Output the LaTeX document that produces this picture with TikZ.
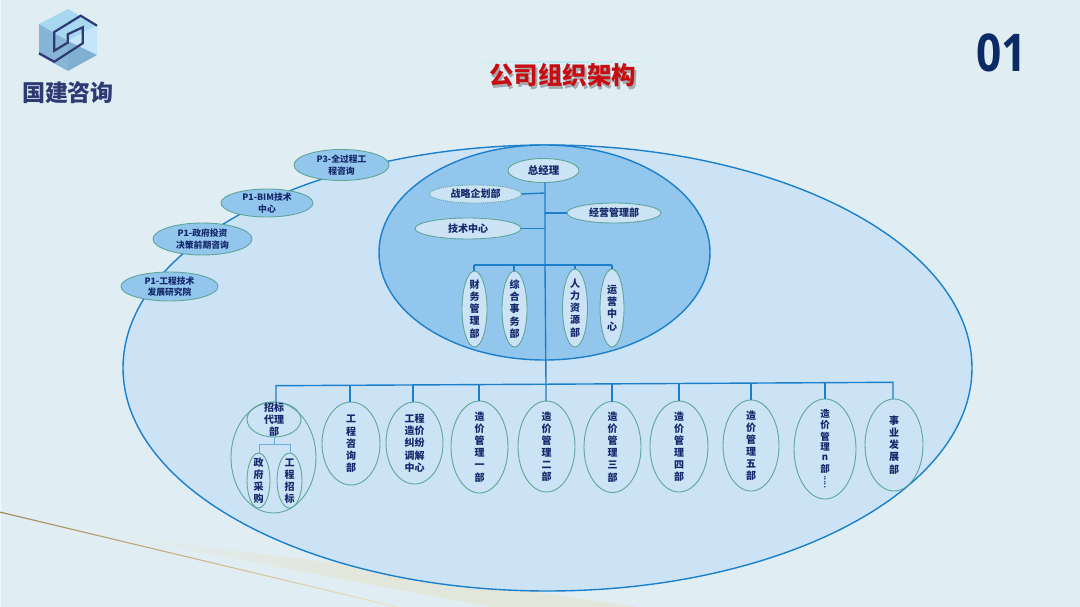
\documentclass[tikz,border=0pt]{standalone}
\usepackage{graphicx}
\usepackage{fontspec}
\setmainfont{Noto Sans CJK SC}
\newfontfamily\numfont{Open Sans}
\usetikzlibrary{shapes.geometric}
\definecolor{bgc}{HTML}{E0EEF4}
\definecolor{bigfill}{HTML}{CBE3F5}
\definecolor{midfill}{HTML}{93C6EC}
\definecolor{linec}{HTML}{1B7FCB}
\definecolor{edgec}{HTML}{5FA59A}
\definecolor{inkc}{HTML}{14286B}
\definecolor{logoc}{HTML}{2F3A73}
\definecolor{navyc}{HTML}{0B2A66}
\definecolor{redc}{HTML}{C80D12}
\definecolor{goldd}{HTML}{A08A55}
\definecolor{goldl}{HTML}{F0E2BE}
\definecolor{wedgec}{HTML}{E3E6DA}
\definecolor{cyanl}{HTML}{B8E8F6}
\definecolor{logoa}{HTML}{A8D8F0}
\definecolor{logob}{HTML}{C5E5FA}
\definecolor{logoc2}{HTML}{7FB0D2}
\definecolor{logod}{HTML}{86B5D5}
\newcommand\zt[1]{\smash{\makebox[0pt]{\raisebox{-.39em}{\begin{tabular}{@{}c@{}}#1\end{tabular}}}}}
\tikzset{
  oval/.style={ellipse,draw=edgec,line width=0.9pt,inner sep=0pt,outer sep=0pt,text=inkc,font=\fontsize{10}{12}\selectfont\bfseries},
  lightoval/.style={oval,fill=bigfill},
  pnode/.style={oval,fill=midfill,font=\fontsize{8.8}{11.5}\selectfont\bfseries},
  wire/.style={draw=linec,line width=1.4pt},
  subwire/.style={draw=linec!65,line width=1pt},
  sz/.style 2 args={minimum width=#1pt,minimum height=#2pt}
}
\begin{document}
\begin{tikzpicture}[x=1pt,y=-1pt]
\useasboundingbox (0,0) rectangle (1080,607);
\fill[bgc] (0,0) rectangle (1080,607);
\fill[bgc!50!white] (0,0) rectangle (1,607);
% gold decoration
\shade[left color=bgc,right color=wedgec,middle color=wedgec] (85,531) -- (348,565) -- (638,607) -- (491,607) -- cycle;
\shade[left color=goldd,right color=goldl] (0,511.5) -- (397,606.5) -- (397,607.5) -- (0,512.7) -- cycle;
% big ellipses
\node[ellipse,draw=linec,line width=1.4pt,fill=bigfill,minimum width=849pt,minimum height=446pt,inner sep=0pt] (outer) at (547.5,368) {};
\node[ellipse,draw=linec,line width=1.4pt,fill=midfill,minimum width=331pt,minimum height=215pt,inner sep=0pt] (inner) at (544.5,252.5) {};
% title
\shade[left color=bgc,right color=bgc,middle color=cyanl] (460,61.6) rectangle (664,62.8);
\node[text=black,opacity=.28,font=\fontsize{24.5}{26}\selectfont\bfseries] (titleshadow) at (564,78) {公司组织架构};
\node[text=redc,font=\fontsize{24.5}{26}\selectfont\bfseries] (title) at (562.5,75.5) {公司组织架构};
\node[text=navyc,inner sep=0pt] (num) at (1001.5,53) {\scalebox{0.85}[1]{\fontsize{52}{54}\selectfont\numfont\bfseries 01}};
% logo
\fill[logoa] (68,9) -- (97,25) -- (68,41) -- (39,24) -- cycle;
\fill[logob] (97,25) -- (97,55) -- (68,41) -- cycle;
\fill[logod] (39,24) -- (68,41) -- (68,71) -- (39,55) -- cycle;
\fill[logoc2] (97,55) -- (68,71) -- (68,41) -- cycle;
\draw[logoc,line width=2.2pt,line join=miter] (97,25.7) -- (80.7,15.7) -- (54.3,32) -- (54.3,50.7) -- (67.7,42.7) -- (67.7,34.3) -- (82.7,27.3) -- (82.7,43.3) -- (54.3,61.7) -- (39,53.3);
\node[text=logoc,font=\fontsize{23}{25}\selectfont\bfseries] (logotext) at (68,92.5) {国建咨询};
% top group
\node[lightoval,sz={71}{24},font=\fontsize{10.5}{12}\selectfont\bfseries] (gm) at (543.5,170.5) {\zt{总经理}};
\node[lightoval,sz={92}{18},densely dotted] (zl) at (475.5,194) {\zt{战略企划部}};
\node[lightoval,sz={94}{20}] (jy) at (614,213) {\zt{经营管理部}};
\node[lightoval,sz={106}{21}] (js) at (468,228.5) {\zt{技术中心}};
\node[lightoval,sz={25}{76}] (cw) at (474.5,309) {\zt{财\\务\\管\\理\\部}};
\node[lightoval,sz={25}{76}] (zh) at (514.5,309) {\zt{综\\合\\事\\务\\部}};
\node[lightoval,sz={25}{78}] (rl) at (575,308) {\zt{人\\力\\资\\源\\部}};
\node[lightoval,sz={24}{78}] (yy) at (612,308) {\zt{运\\营\\中\\心}};
% P nodes
\node[pnode,sz={95}{31}] (p3) at (341.5,165) {\zt{P3-全过程工\\程咨询}};
\node[pnode,sz={92}{28}] (pb) at (267,203) {\zt{P1-BIM技术\\中心}};
\node[pnode,sz={99}{32}] (pz) at (202.5,239) {\zt{P1-政府投资\\决策前期咨询}};
\node[pnode,sz={97}{29}] (pg) at (169.5,286.5) {\zt{P1-工程技术\\发展研究院}};
% bottom group
\node[oval,sz={85}{111}] (zb) at (273.5,457.5) {};
\node[oval,sz={54}{35}] (zbh) at (274,419.5) {\zt{招标\\代理\\部}};
\node[oval,sz={23}{55}] (zf) at (258.5,480.5) {\zt{政\\府\\采\\购}};
\node[oval,sz={25}{55}] (gc) at (289.5,480.5) {\zt{工\\程\\招\\标}};
\node[oval,sz={58}{83}] (gz) at (351,443.5) {\zt{工\\程\\咨\\询\\部}};
\node[oval,sz={57}{82}] (gj) at (414.5,443) {\zt{工程\\造价\\纠纷\\调解\\中心}};
\node[oval,sz={57}{92}] (m1) at (479.5,447) {\zt{造\\价\\管\\理\\一\\部}};
\node[oval,sz={57}{91}] (m2) at (546.5,446.5) {\zt{造\\价\\管\\理\\二\\部}};
\node[oval,sz={57}{91}] (m3) at (612.5,447) {\zt{造\\价\\管\\理\\三\\部}};
\node[oval,sz={58}{91}] (m4) at (679,446.5) {\zt{造\\价\\管\\理\\四\\部}};
\node[oval,sz={56}{91}] (m5) at (751,445.5) {\zt{造\\价\\管\\理\\五\\部}};
\node[oval,sz={62}{100},font=\fontsize{9.5}{10}\selectfont\bfseries] (mn) at (825,449) {\zt{造\\价\\管\\理\\n\\部\\[1pt]\rotatebox{90}{\fontsize{7}{7}\selectfont .....}}};
\node[oval,sz={58}{92}] (sy) at (894,445) {\zt{事\\业\\发\\展\\部}};
% connectors
\draw[wire] (gm.south -| 545,0) -- (545,265) -- (546,384) -- (m2.north -| 546,0);
\draw[wire] (zl.east) -- (544.6,193);
\draw[wire] (jy.west) -- (544.8,213);
\draw[wire] (js.east) -- (544.8,228.5);
\coordinate (tb1) at (474,265);
\coordinate (tb2) at (612,265);
\draw[wire] (tb1) -- (tb2);
\draw[wire] (tb1) -- (cw.north -| tb1);
\draw[wire] (514,265) -- (zh.north -| 514,0);
\draw[wire] (575,265) -- (rl.north);
\draw[wire] (tb2) -- (yy.north);
\coordinate (bb1) at (276,385.7);
\coordinate (bb2) at (893,382.3);
\draw[wire] (zb.north -| bb1) -- (bb1) -- (bb2) -- (sy.north -| bb2);
\draw[wire] (350,385.3) -- (gz.north -| 350,0);
\draw[wire] (413,385) -- (gj.north -| 413,0);
\draw[wire] (479,384.6) -- (m1.north -| 479,0);
\draw[wire] (612,383.9) -- (m3.north -| 612,0);
\draw[wire] (679,383.5) -- (m4.north);
\draw[wire] (751,383.1) -- (m5.north);
\draw[wire] (825,382.7) -- (mn.north);
\draw[subwire] (zbh.south) -- (274,444);
\draw[subwire] (zf.north -| 259,0) -- (259,444) -- (290,444) -- (gc.north -| 290,0);
\end{tikzpicture}
\end{document}
